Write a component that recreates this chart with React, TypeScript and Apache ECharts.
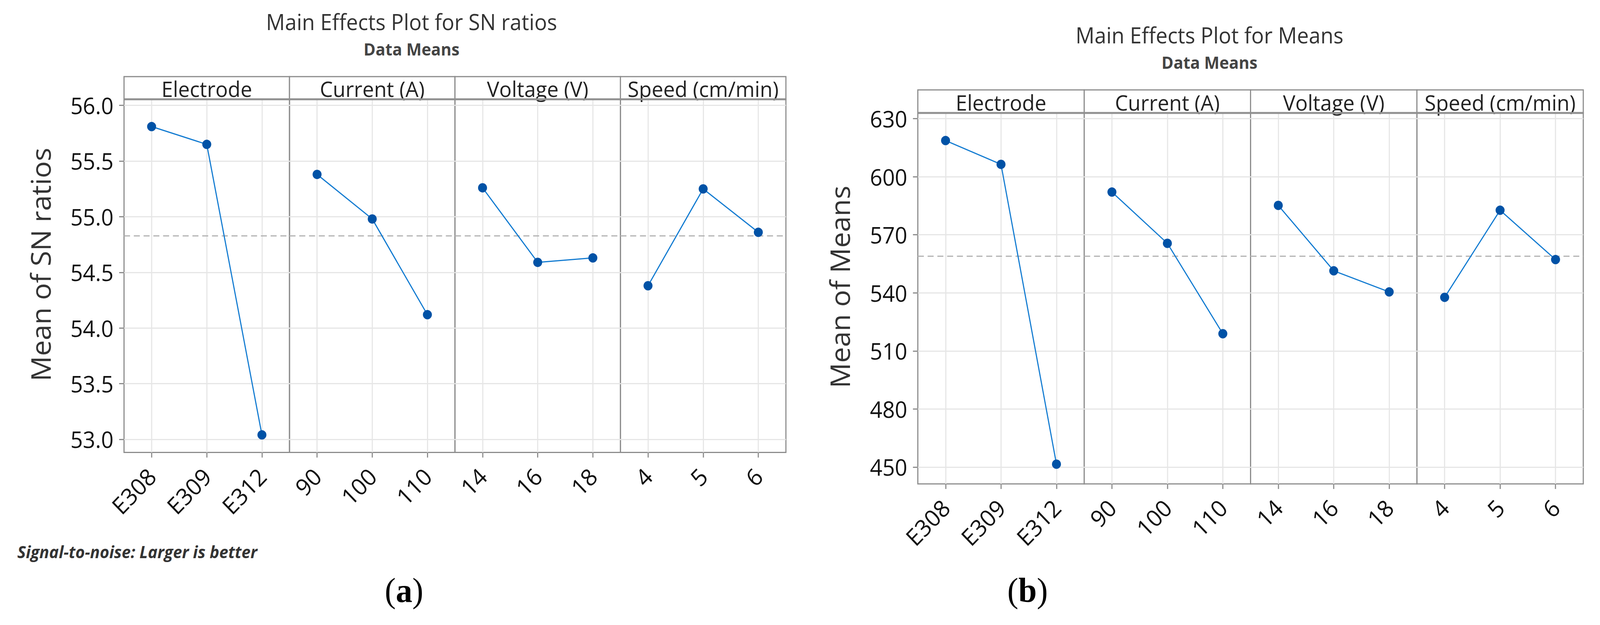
import React, { useEffect, useRef } from 'react';
import * as echarts from 'echarts';

// ---------- data ----------
const FACTORS = ['Electrode', 'Current (A)', 'Voltage (V)', 'Speed (cm/min)'];
const ELECTRODE_LEVELS = ['E308', 'E309', 'E312'];
const CURRENT_LEVELS = ['90', '100', '110'];
const VOLTAGE_LEVELS = ['14', '16', '18'];
const SPEED_LEVELS = ['4', '5', '6'];

const SN_ELECTRODE = [55.81, 55.65, 53.04];
const SN_CURRENT = [55.38, 54.98, 54.12];
const SN_VOLTAGE = [55.26, 54.59, 54.63];
const SN_SPEED = [54.38, 55.25, 54.86];

const MEANS_ELECTRODE = [618.7, 606.4, 451.5];
const MEANS_CURRENT = [592.1, 565.6, 518.9];
const MEANS_VOLTAGE = [585.2, 551.4, 540.5];
const MEANS_SPEED = [537.7, 582.7, 557.2];

const SN_TICKS = [53.0, 53.5, 54.0, 54.5, 55.0, 55.5, 56.0];
const MEANS_TICKS = [450, 480, 510, 540, 570, 600, 630];
const SN_RANGE = [52.882, 56.055];
const MEANS_RANGE = [441.3, 632.95];

// ---------- layout / style ----------
const W = 4257;
const H = 1599;
const LAYOUT_A = { left: 330, right: 2091, headTop: 196, top: 254, bottom: 1157.6, headTextY: 227, yTitleX: 107 };
const LAYOUT_B = { left: 2442, right: 4212.5, headTop: 230, top: 289, bottom: 1238, headTextY: 262, yTitleX: 2234 };

const FONT = '"Open Sans", "Noto Sans", sans-serif';
const FRAME = '#8c8c8c';
const GRIDC = '#e6e6e6';
const LINE_C = '#127bd1';
const DOT_C = '#0052a6';
const MEAN_C = '#b3b3b3';

function buildChart(
  offset: number,
  L: any,
  levels: string[][],
  values: number[][],
  ticks: number[],
  range: number[],
  decimals: number,
  yTitle: string
) {
  const grids: any[] = [];
  const xAxes: any[] = [];
  const yAxes: any[] = [];
  const series: any[] = [];
  const graphics: any[] = [];
  const pw = (L.right - L.left) / 4;
  const all = values.flat();
  const grand = all.reduce((a, b) => a + b, 0) / all.length;

  for (let i = 0; i < 4; i++) {
    const k = offset + i;
    const left = L.left + i * pw;
    grids.push({
      left,
      top: L.top,
      width: pw,
      height: L.bottom - L.top,
      show: true,
      borderColor: FRAME,
      borderWidth: 3,
      backgroundColor: 'transparent',
      containLabel: false,
      outerBoundsMode: 'none',
    });
    xAxes.push({
      gridIndex: k,
      type: 'category',
      data: levels[i],
      boundaryGap: true,
      axisLine: { show: false },
      axisTick: { show: true, alignWithLabel: true, length: 13, lineStyle: { color: FRAME, width: 3 } },
      axisLabel: { show: true, interval: 0, rotate: 45, fontSize: 60, fontFamily: FONT, color: '#111', margin: 50 },
      splitLine: { show: true, alignWithLabel: true, interval: 0, lineStyle: { color: GRIDC, width: 3 } },
    });
    yAxes.push({
      gridIndex: k,
      type: 'value',
      min: range[0],
      max: range[1],
      axisLine: { show: false },
      axisTick: {
        show: i === 0,
        length: 13,
        customValues: ticks,
        lineStyle: { color: FRAME, width: 3 },
      },
      axisLabel: {
        show: i === 0,
        customValues: ticks,
        formatter: (v: number) => v.toFixed(decimals),
        fontSize: 58,
        fontFamily: FONT,
        color: '#111',
        margin: 28,
      },
      splitLine: { show: true, lineStyle: { color: GRIDC, width: 3 } },
    });
    series.push({
      type: 'line',
      xAxisIndex: k,
      yAxisIndex: k,
      data: values[i],
      symbol: 'circle',
      symbolSize: 24,
      z: 3,
      itemStyle: { color: DOT_C },
      lineStyle: { color: LINE_C, width: 3 },
      markLine: {
        silent: true,
        z: 1,
        symbol: ['none', 'none'],
        label: { show: false },
        lineStyle: { color: MEAN_C, width: 3, type: [16, 10] },
        data: [{ yAxis: grand }],
      },
    });
    graphics.push({
      type: 'rect',
      silent: true,
      z: 5,
      shape: { x: left, y: L.headTop, width: pw, height: L.top - L.headTop },
      style: { fill: '#fff', stroke: FRAME, lineWidth: 3 },
    });
    graphics.push({
      type: 'text',
      silent: true,
      z: 6,
      x: left + pw / 2,
      y: L.headTextY,
      style: {
        text: FACTORS[i],
        fontSize: 55,
        lineHeight: 55,
        fontFamily: FONT,
        fill: '#222',
        textAlign: 'center',
        textVerticalAlign: 'middle',
        align: 'center',
        verticalAlign: 'middle',
      },
    });
  }
  graphics.push({
    type: 'line',
    silent: true,
    z: 7,
    shape: { x1: L.left, y1: L.top, x2: L.right, y2: L.top },
    style: { stroke: '#909090', lineWidth: 5 },
  });
  graphics.push({
    type: 'text',
    silent: true,
    z: 6,
    x: L.yTitleX,
    y: (L.headTop + L.bottom) / 2,
    rotation: Math.PI / 2,
    style: {
      text: yTitle,
      fontSize: 72,
      lineHeight: 72,
      fontFamily: FONT,
      fill: '#333',
      textAlign: 'center',
      textVerticalAlign: 'middle',
      align: 'center',
      verticalAlign: 'middle',
    },
  });
  return { grids, xAxes, yAxes, series, graphics };
}

function textEl(text: string, x: number, y: number, size: number, extra: any = {}) {
  return {
    type: 'text',
    silent: true,
    z: 6,
    x,
    y,
    style: Object.assign(
      {
        text,
        fontSize: size,
        lineHeight: size,
        fontFamily: FONT,
        fill: '#333',
        textAlign: 'center',
        textVerticalAlign: 'middle',
        align: 'center',
        verticalAlign: 'middle',
      },
      extra
    ),
  };
}

function panelLabel(letter: string, x: number, y: number) {
  const serif = '"Liberation Serif", "DejaVu Serif", serif';
  return {
    type: 'text',
    silent: true,
    z: 6,
    x,
    y,
    style: {
      text: '{n|(}{b|' + letter + '}{n|)}',
      textAlign: 'center',
      textVerticalAlign: 'middle',
      align: 'center',
      verticalAlign: 'middle',
      rich: {
        n: { fontSize: 88, lineHeight: 88, fontFamily: serif, fill: '#000', color: '#000' },
        b: { fontSize: 88, lineHeight: 88, fontWeight: 'bold', fontFamily: serif, fill: '#000', color: '#000' },
      },
    },
  };
}

export default function App() {
  const ref = useRef<HTMLDivElement>(null);
  const vw = typeof window !== 'undefined' ? window.innerWidth : W;
  const vh = typeof window !== 'undefined' ? window.innerHeight : H;
  const sx = vw / W;
  const sy = vh / H;
  useEffect(() => {
    if (!ref.current) return;
    const chart = echarts.init(ref.current, undefined, { renderer: 'svg', width: W, height: H });
    const a = buildChart(
      0,
      LAYOUT_A,
      [ELECTRODE_LEVELS, CURRENT_LEVELS, VOLTAGE_LEVELS, SPEED_LEVELS],
      [SN_ELECTRODE, SN_CURRENT, SN_VOLTAGE, SN_SPEED],
      SN_TICKS,
      SN_RANGE,
      1,
      'Mean of SN ratios'
    );
    const b = buildChart(
      4,
      LAYOUT_B,
      [ELECTRODE_LEVELS, CURRENT_LEVELS, VOLTAGE_LEVELS, SPEED_LEVELS],
      [MEANS_ELECTRODE, MEANS_CURRENT, MEANS_VOLTAGE, MEANS_SPEED],
      MEANS_TICKS,
      MEANS_RANGE,
      0,
      'Mean of Means'
    );
    const extra = [
      textEl('Main Effects Plot for SN ratios', 1095, 55, 56),
      textEl('Data Means', 1095, 125, 43, { fontWeight: 'bold', fill: '#444' }),
      textEl('Main Effects Plot for Means', 3218, 89, 56),
      textEl('Data Means', 3218, 159, 43, { fontWeight: 'bold', fill: '#444' }),
      textEl('Signal-to-noise: Larger is better', 46, 1411, 43, {
        fontWeight: 'bold',
        fontStyle: 'italic',
        textAlign: 'left',
        align: 'left',
      }),
      panelLabel('a', 1075, 1510),
      panelLabel('b', 2734, 1510),
    ];
    chart.setOption({
      animation: false,
      backgroundColor: '#ffffff',
      grid: [...a.grids, ...b.grids],
      xAxis: [...a.xAxes, ...b.xAxes],
      yAxis: [...a.yAxes, ...b.yAxes],
      series: [...a.series, ...b.series],
      graphic: { elements: [...a.graphics, ...b.graphics, ...extra] },
    });
    return () => chart.dispose();
  }, []);
  return (
    <div
      ref={ref}
      style={{
        position: 'fixed',
        left: 0,
        top: 0,
        width: W,
        height: H,
        background: '#fff',
        transform: `scale(${sx}, ${sy})`,
        transformOrigin: '0 0',
      }}
    />
  );
}
